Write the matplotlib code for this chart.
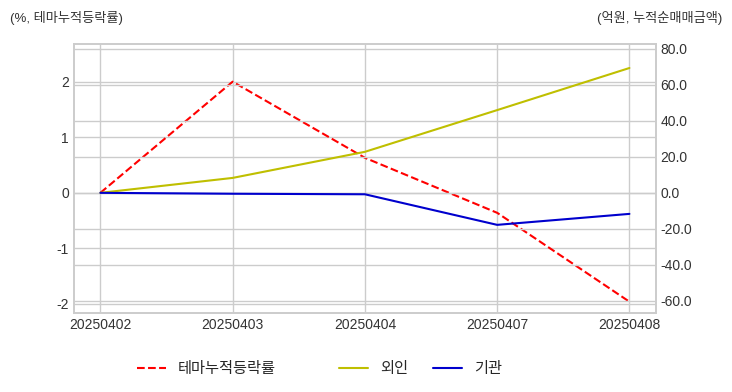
import matplotlib
matplotlib.use("Agg")
import matplotlib.pyplot as plt
import seaborn as sns

# data
dates = ["20250402", "20250403", "20250404", "20250407", "20250408"]
theme_ret = [0.0, 2.0, 0.63, -0.36, -1.96]     # %, left axis
foreign = [0.0, 8.3, 22.8, 46.0, 69.4]         # 억원, right axis
institution = [0.0, -0.5, -0.8, -17.8, -11.7]  # 억원, right axis

left_ticks = [-2, -1, 0, 1, 2]
right_ticks = [-60, -40, -20, 0, 20, 40, 60, 80]

sns.set_style("whitegrid")
plt.rcParams["font.family"] = ["Liberation Sans", "Noto Sans CJK KR", "DejaVu Sans"]
plt.rcParams["axes.unicode_minus"] = False

fig = plt.figure(figsize=(7.32, 3.92), dpi=100)
ax1 = fig.add_axes([0.101, 0.202, 0.795, 0.686])
ax2 = ax1.twinx()

x = list(range(len(dates)))
l1, = ax1.plot(x, theme_ret, color="red", linestyle="--", lw=1.5, label="테마누적등락률")
l2, = ax2.plot(x, foreign, color="y", lw=1.5, label="외인")
l3, = ax2.plot(x, institution, color="mediumblue", lw=1.5, label="기관")

ax1.set_xticks(x)
ax1.set_xticklabels(dates, fontsize=10)
ax1.set_xlim(-0.2, 4.2)

ax1.set_ylim(-2.16, 2.68)
ax1.set_yticks(left_ticks)
ax1.tick_params(axis="y", labelsize=10)
ax2.set_ylim(-66.7, 82.8)
ax2.set_yticks(right_ticks)
ax2.set_yticklabels([f"{v:.1f}" for v in right_ticks], fontsize=10)

for ax in (ax1, ax2):
    ax.tick_params(length=0, colors="#333333")
    ax.grid(True, color="#cccccc", lw=1)
    for s in ax.spines.values():
        s.set_color("#cccccc")
        s.set_linewidth(1.2)

fig.text(0.014, 0.955, "(%, 테마누적등락률)", fontsize=9.5, color="#333333", va="center")
fig.text(0.986, 0.955, "(억원, 누적순매매금액)", fontsize=9.5, color="#333333",
         va="center", ha="right")

fig.legend(handles=[l1], loc="center", bbox_to_anchor=(0.282, 0.059),
           frameon=False, fontsize=11, handlelength=1.9)
fig.legend(handles=[l2, l3], loc="center", bbox_to_anchor=(0.575, 0.059),
           ncol=2, frameon=False, fontsize=11, handlelength=1.9, columnspacing=1.6)

fig.savefig("out.png", dpi=100)
